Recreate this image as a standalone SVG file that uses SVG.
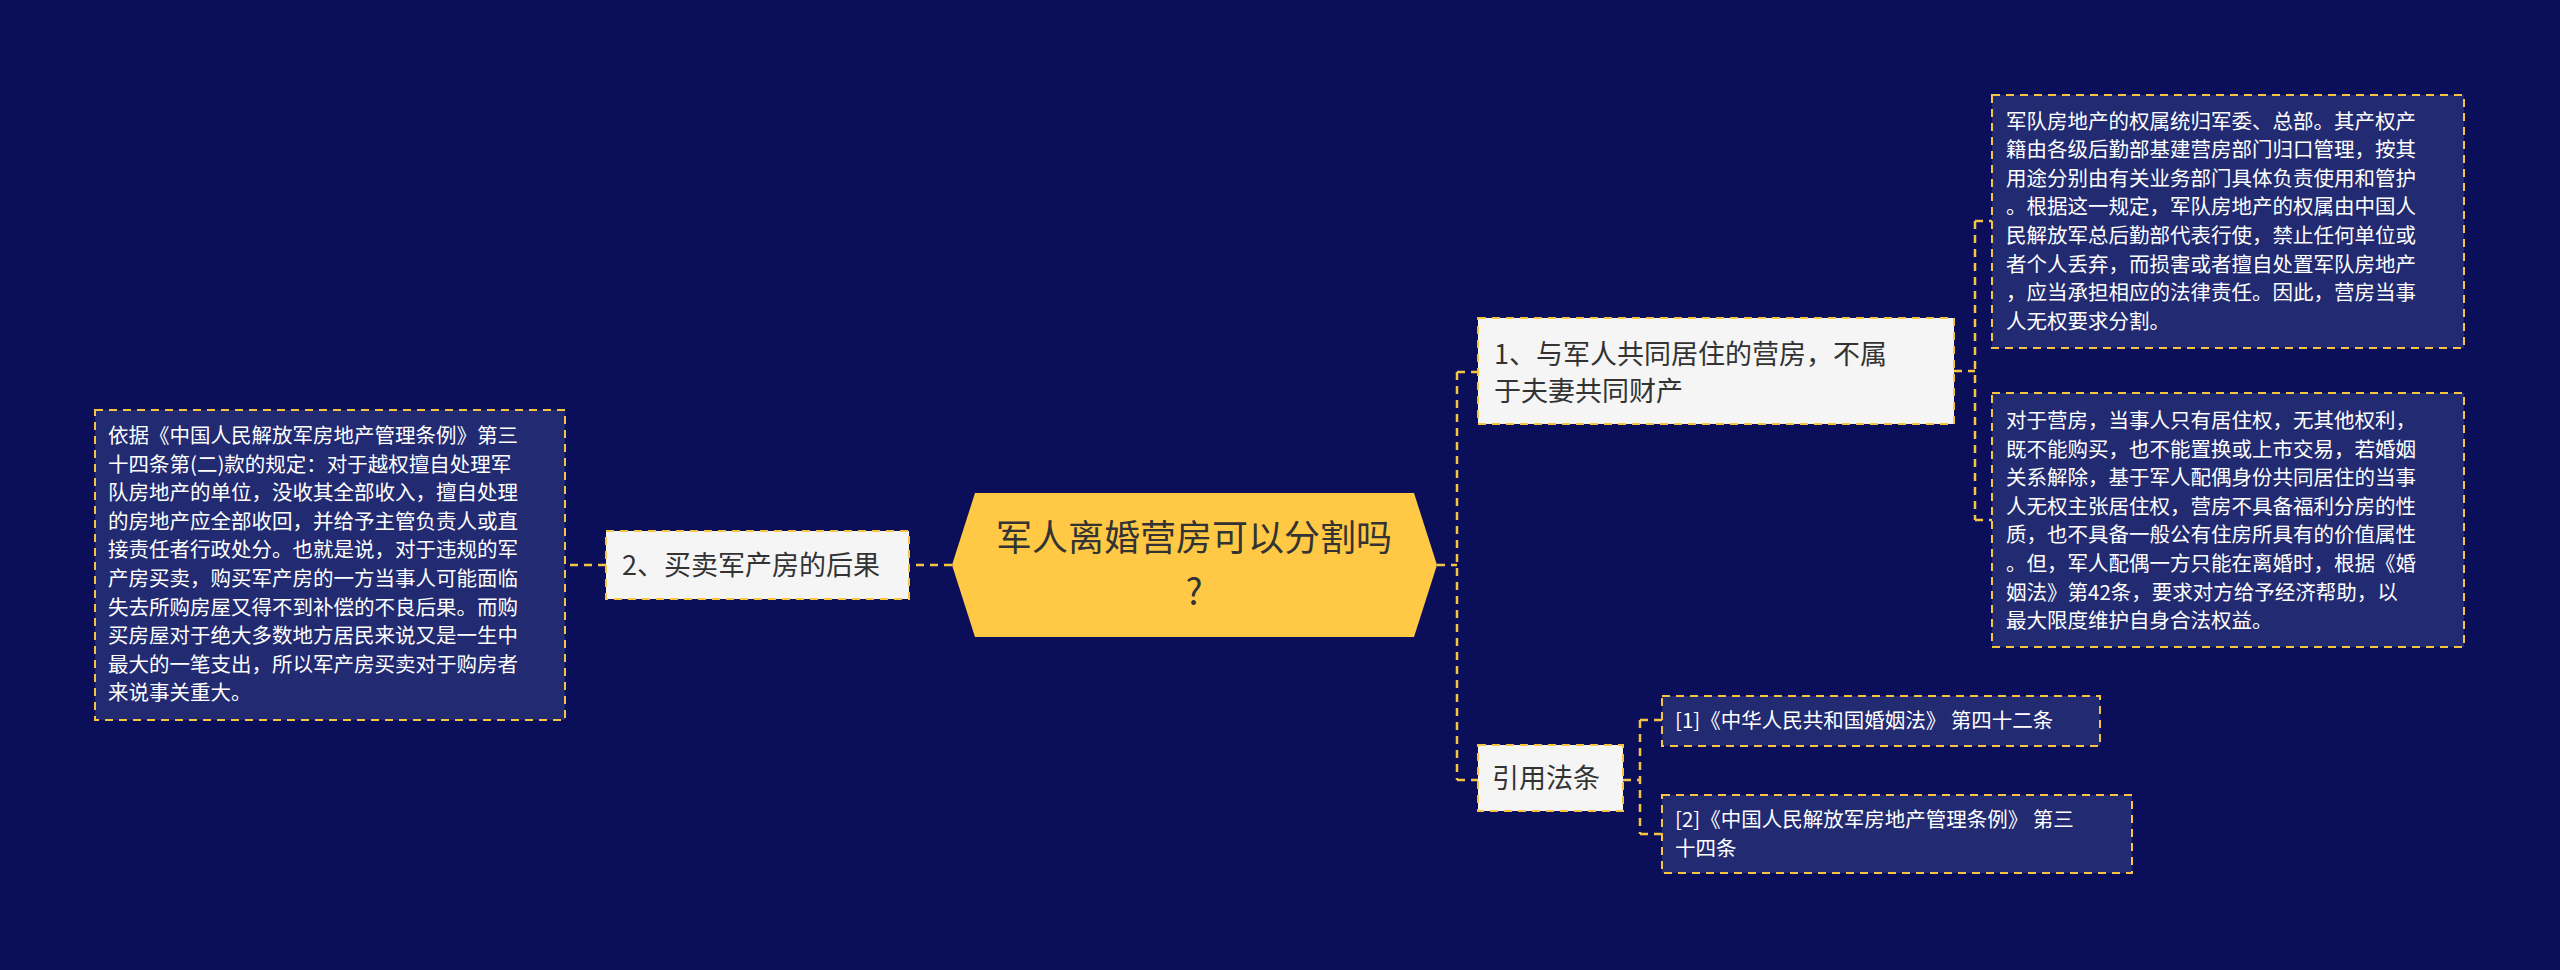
<svg xmlns="http://www.w3.org/2000/svg" width="2560" height="970" viewBox="0 0 2560 970">
<style>
.bg{fill:#0b0f5a}
.c{fill:none;stroke:#f5c443;stroke-width:2.5;stroke-dasharray:8 6}
.light{fill:#f5f5f5;stroke:#f5c443;stroke-width:2;stroke-dasharray:8 6}
.dark{fill:#222a72;stroke:#f5c443;stroke-width:2;stroke-dasharray:8 6}
text{font-family:"Noto Sans CJK SC","Noto Sans",sans-serif}
.t1{fill:#333333;font-size:27px}
.t2{fill:#ffffff;font-size:20.5px}
.t0{fill:#333333;font-size:36px}
</style>
<rect class="bg" width="2560" height="970"/>
<g id="connectors">
<path class="c" d="M1437 565H1457M1457 372V780M1457 372H1478M1457 780H1478"/>
<path class="c" d="M1954 371H1975M1975 221V520M1975 221H1992M1975 520H1992"/>
<path class="c" d="M1623 780H1640M1640 720V834M1640 720H1662M1640 834H1662"/>
<path class="c" d="M952 565H909M606 565H565"/>
</g>
<g id="center">
<polygon points="975,493 1414,493 1437,565 1414,637 975,637 952,565" fill="#ffc845"/>
<text class="t0" x="1194" y="551" text-anchor="middle">军人离婚营房可以分割吗</text>
<text class="t0" x="1194" y="605" text-anchor="middle">?</text>
</g>
<g id="n2">
<rect class="light" x="606" y="531" width="303" height="68"/>
<text class="t1" x="622" y="575">2、买卖军产房的后果</text>
</g>
<g id="n2d">
<rect class="dark" x="95" y="410" width="470" height="310"/>
<text class="t2" x="108" y="443">依据《中国人民解放军房地产管理条例》第三</text>
<text class="t2" x="108" y="472">十四条第(二)款的规定：对于越权擅自处理军</text>
<text class="t2" x="108" y="500">队房地产的单位，没收其全部收入，擅自处理</text>
<text class="t2" x="108" y="529">的房地产应全部收回，并给予主管负责人或直</text>
<text class="t2" x="108" y="557">接责任者行政处分。也就是说，对于违规的军</text>
<text class="t2" x="108" y="586">产房买卖，购买军产房的一方当事人可能面临</text>
<text class="t2" x="108" y="615">失去所购房屋又得不到补偿的不良后果。而购</text>
<text class="t2" x="108" y="643">买房屋对于绝大多数地方居民来说又是一生中</text>
<text class="t2" x="108" y="672">最大的一笔支出，所以军产房买卖对于购房者</text>
<text class="t2" x="108" y="700">来说事关重大。</text>
</g>
<g id="n1">
<rect class="light" x="1478" y="318" width="476" height="106"/>
<text class="t1" x="1494" y="364">1、与军人共同居住的营房，不属</text>
<text class="t1" x="1494" y="401">于夫妻共同财产</text>
</g>
<g id="n1a">
<rect class="dark" x="1992" y="95" width="472" height="253"/>
<text class="t2" x="2006" y="129">军队房地产的权属统归军委、总部。其产权产</text>
<text class="t2" x="2006" y="157">籍由各级后勤部基建营房部门归口管理，按其</text>
<text class="t2" x="2006" y="186">用途分别由有关业务部门具体负责使用和管护</text>
<text class="t2" x="2006" y="214">。根据这一规定，军队房地产的权属由中国人</text>
<text class="t2" x="2006" y="243">民解放军总后勤部代表行使，禁止任何单位或</text>
<text class="t2" x="2006" y="272">者个人丢弃，而损害或者擅自处置军队房地产</text>
<text class="t2" x="2006" y="300">，应当承担相应的法律责任。因此，营房当事</text>
<text class="t2" x="2006" y="329">人无权要求分割。</text>
</g>
<g id="n1b">
<rect class="dark" x="1992" y="393" width="472" height="254"/>
<text class="t2" x="2006" y="428">对于营房，当事人只有居住权，无其他权利，</text>
<text class="t2" x="2006" y="457">既不能购买，也不能置换或上市交易，若婚姻</text>
<text class="t2" x="2006" y="485">关系解除，基于军人配偶身份共同居住的当事</text>
<text class="t2" x="2006" y="514">人无权主张居住权，营房不具备福利分房的性</text>
<text class="t2" x="2006" y="542">质，也不具备一般公有住房所具有的价值属性</text>
<text class="t2" x="2006" y="571">。但，军人配偶一方只能在离婚时，根据《婚</text>
<text class="t2" x="2006" y="600">姻法》第42条，要求对方给予经济帮助，以</text>
<text class="t2" x="2006" y="628">最大限度维护自身合法权益。</text>
</g>
<g id="n3">
<rect class="light" x="1478" y="745" width="145" height="66"/>
<text class="t1" x="1492" y="788">引用法条</text>
</g>
<g id="r1">
<rect class="dark" x="1662" y="696" width="438" height="50"/>
<text class="t2" x="1675" y="728">[1]《中华人民共和国婚姻法》 第四十二条</text>
</g>
<g id="r2">
<rect class="dark" x="1662" y="795" width="470" height="78"/>
<text class="t2" x="1675" y="827">[2]《中国人民解放军房地产管理条例》 第三</text>
<text class="t2" x="1675" y="856">十四条</text>
</g>
</svg>
